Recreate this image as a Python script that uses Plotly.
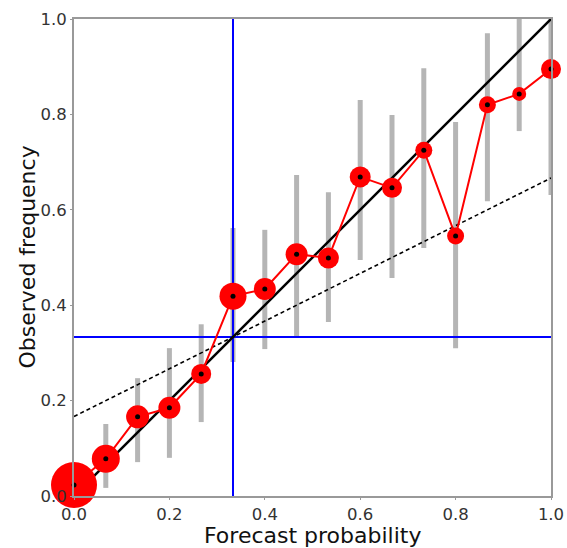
import plotly.graph_objects as go

forecast = [i / 15 for i in range(16)]
observed = [0.023, 0.078, 0.166, 0.185, 0.256, 0.419, 0.434, 0.507, 0.499,
            0.669, 0.646, 0.725, 0.545, 0.820, 0.843, 0.895]
lower = [0.0, 0.017, 0.071, 0.080, 0.155, 0.281, 0.308, 0.331, 0.365,
         0.495, 0.457, 0.520, 0.310, 0.618, 0.765, 0.631]
upper = [0.045, 0.151, 0.247, 0.310, 0.360, 0.562, 0.558, 0.673, 0.637,
         0.830, 0.799, 0.897, 0.784, 0.970, 1.0, 1.0]
sizes = [46, 28, 23, 22, 20, 27, 22, 22, 21, 21, 20, 17, 17, 17, 14, 20]
climatology = 1 / 3
tick_vals = [0.0, 0.2, 0.4, 0.6, 0.8, 1.0]
x_title = "Forecast probability"
y_title = "Observed frequency"

FONT = "DejaVu Sans, sans-serif"

fig = go.Figure()

# uncertainty bars
bx, by = [], []
for x, lo, hi in zip(forecast, lower, upper):
    bx += [x, x, None]
    by += [lo, hi, None]
fig.add_trace(go.Scatter(x=bx, y=by, mode="lines",
                         line=dict(color="#b5b5b5", width=5),
                         hoverinfo="skip", cliponaxis=False))

# climatology lines
fig.add_trace(go.Scatter(x=[climatology, climatology], y=[0, 1], mode="lines",
                         line=dict(color="#0000ff", width=2)))
fig.add_trace(go.Scatter(x=[0, 1], y=[climatology, climatology], mode="lines",
                         line=dict(color="#0000ff", width=2)))

# perfect reliability
fig.add_trace(go.Scatter(x=[0, 1], y=[0, 1], mode="lines",
                         line=dict(color="black", width=2.5)))
# no-skill line
fig.add_trace(go.Scatter(x=[0, 1], y=[climatology / 2, (1 + climatology) / 2],
                         mode="lines",
                         line=dict(color="black", width=1.6, dash="4px,3px")))

# reliability curve
fig.add_trace(go.Scatter(x=forecast, y=observed, mode="lines+markers",
                         line=dict(color="#ff0000", width=2),
                         marker=dict(color="#ff0000", size=sizes, opacity=1,
                                     line=dict(width=0)),
                         opacity=1, cliponaxis=False))
fig.add_trace(go.Scatter(x=forecast, y=observed, mode="markers",
                         marker=dict(color="black", size=5, opacity=1),
                         cliponaxis=False))

axis_common = dict(
    range=[0, 1], tickvals=tick_vals, tickformat=".1f",
    showgrid=False, zeroline=False, automargin=False,
    showline=True, linecolor="#999999", linewidth=2, mirror=True,
    ticks="outside", ticklen=2, tickcolor="#999999", tickwidth=1,
    tickfont=dict(family=FONT, size=16.5, color="#333333"),
)

fig.update_layout(
    width=567, height=548,
    margin=dict(l=74, r=16, t=19, b=52),
    paper_bgcolor="white", plot_bgcolor="white",
    showlegend=False,
    xaxis=dict(**axis_common),
    yaxis=dict(**axis_common),
    annotations=[
        dict(text=x_title, xref="paper", yref="paper", x=0.5, y=0,
             yshift=-39, xanchor="center", yanchor="middle", showarrow=False,
             font=dict(family=FONT, size=22, color="#111111")),
        dict(text=y_title, xref="paper", yref="paper", x=0, y=0.5,
             xshift=-47, xanchor="center", yanchor="middle", showarrow=False,
             textangle=-90, font=dict(family=FONT, size=22, color="#111111")),
    ],
)

fig.write_html("out.html",
               config={"displayModeBar": False},
               post_script="document.body.style.margin='0';"
                           "document.body.style.overflow='hidden';")
